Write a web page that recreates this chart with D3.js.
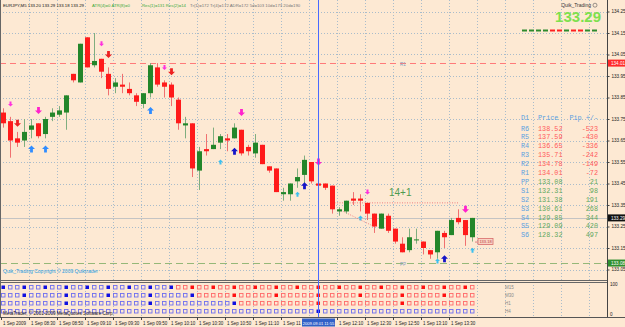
<!DOCTYPE html>
<html>
<head>
<meta charset="utf-8">
<script src="https://cdn.jsdelivr.net/npm/d3@7"></script>
<style>
body{margin:0;background:#fde9d3;}
svg{display:block;}
text{font-family:"Liberation Sans",Arial,sans-serif;}
.mono{font-family:"Liberation Mono","DejaVu Sans Mono",monospace;}
</style>
</head>
<body>
<svg id="chart" width="625" height="327"></svg>
<script>
// M5 candles, bar 0 = 08:10
var barOpen  = [133.78,133.74,133.66,133.65,133.70,133.73,133.68,133.76,133.77,133.78,133.96,133.92,134.13,134.00,134.03,133.96,133.90,133.91,133.89,133.86,133.82,133.87,133.99,133.92,133.91,133.84,133.72,133.73,133.51,133.61,133.61,133.64,133.66,133.66,133.70,133.62,133.59,133.63,133.53,133.52,133.40,133.40,133.46,133.49,133.55,133.45,133.45,133.44,133.32,133.32,133.38,133.38,133.36,133.31,133.24,133.30,133.24,133.17,133.14,133.19,133.18,133.14,133.13,133.22,133.21,133.29,133.28,133.20];
var barHigh  = [133.80,133.76,133.69,133.75,133.75,133.73,133.76,133.80,133.81,133.86,133.96,134.10,134.13,134.15,134.03,133.99,133.94,133.96,133.92,133.87,133.87,134.01,134.01,133.93,133.92,133.85,133.76,133.73,133.62,133.68,133.71,133.68,133.68,133.73,133.70,133.63,133.68,133.63,133.53,133.52,133.43,133.45,133.52,133.58,133.55,133.45,133.45,133.44,133.34,133.37,133.41,133.40,133.36,133.31,133.31,133.31,133.24,133.20,133.24,133.24,133.18,133.14,133.23,133.23,133.29,133.33,133.28,133.29];
var barLow   = [133.71,133.57,133.62,133.62,133.66,133.66,133.66,133.74,133.76,133.70,133.92,133.92,133.99,133.99,133.94,133.86,133.87,133.87,133.86,133.81,133.80,133.85,133.90,133.85,133.81,133.70,133.66,133.48,133.42,133.58,133.61,133.61,133.60,133.66,133.58,133.58,133.57,133.54,133.50,133.41,133.37,133.37,133.43,133.45,133.45,133.43,133.42,133.31,133.30,133.31,133.35,133.32,133.28,133.22,133.24,133.22,133.17,133.13,133.13,133.17,133.12,133.10,133.10,133.15,133.21,133.26,133.16,133.18];
var barClose = [133.73,133.65,133.64,133.69,133.72,133.67,133.75,133.78,133.79,133.86,133.93,134.10,133.99,134.02,133.97,133.89,133.92,133.90,133.87,133.83,133.87,134.00,133.91,133.90,133.85,133.73,133.73,133.52,133.60,133.60,133.63,133.67,133.65,133.71,133.59,133.60,133.64,133.54,133.51,133.41,133.41,133.45,133.48,133.56,133.46,133.44,133.43,133.33,133.33,133.37,133.37,133.37,133.31,133.25,133.31,133.23,133.18,133.13,133.20,133.19,133.15,133.12,133.23,133.20,133.28,133.27,133.21,133.29];

var timeTickBars   = [0,4,8,12,16,20,24,28,32,36,40,48,52,56,60,64];
var timeTickLabels = ["1 Sep 2009","1 Sep 08:30","1 Sep 08:50","1 Sep 09:10","1 Sep 09:30","1 Sep 09:50","1 Sep 10:10","1 Sep 10:30","1 Sep 10:50","1 Sep 11:10","1 Sep 11","1 Sep 12:10","1 Sep 12:30","1 Sep 12:50","1 Sep 13:10","1 Sep 13:30"];
var priceTicks = [134.25,134.15,134.05,133.95,133.85,133.75,133.65,133.55,133.45,133.35,133.25,133.15,133.05];

var lastPrice = 133.29;
var cursorBar = 45;
var cursorLabel = "2009.09.01 11:55";

// signal arrows
var arrowBar   = [1,2,5,4,6,14,15,23,24,21,34,31,33,45,43,42,52,51,66,67,63,62];
var arrowPrice = [133.82,133.73,133.79,133.61,133.61,134.10,134.05,133.99,133.97,133.79,133.78,133.55,133.60,133.55,133.44,133.40,133.41,133.29,133.33,133.14,133.10,133.09];
var arrowKind  = ["pinkS","red","pink","blue","blue","pinkS","red","pinkS","red","blue","pink","cyan","navy","pink","navy","cyan","pinkS","cyan","pink","cyan","navy","cyan"];

// daily pivots table
var pivotNames  = ["R6","R5","R4","R3","R2","R1","PP","S1","S2","S3","S4","S5","S6"];
var pivotPrices = ["138.52","137.59","136.65","135.71","134.78","134.01","133.08","132.31","131.38","130.61","129.85","129.09","128.32"];
var pivotPips   = ["-523","-430","-336","-242","-149","-72","21","98","191","268","344","420","497"];

// multi timeframe trend panel
var tfNames  = ["M15","M30","H1","H4"];
var tfRedFrom = [25,28,34,999];
var tfFilled = [
  [0,3,6,9,12,15,18,21,24,27,30,33,36,39,42,45,48,51,54,57,60,63,66],
  [3,9,15,21,27,33,39,45,51,57,63],
  [9,21,33,45,57],
  [45]
];
var topDashColors = ["g","g","g","g","r","r","g","r","r","g","g"];

var svg = d3.select("#chart");
var W = 625, H = 327;
var plotRight = 607;
var subTop = 282, subBottom = 317;

var x = d3.scaleLinear().domain([0, 67]).range([3, 472]);
var y = d3.scaleLinear().domain([133.05, 134.25]).range([269.5, 11.5]);

svg.append("rect").attr("width", W).attr("height", H).attr("fill", "#fde9d3");

// grid
var gridColor = "#a9bccb";
var vBars = d3.range(4, 100, 4).filter(function(b){ return x(b) - 2 < plotRight; });
svg.append("g").selectAll("line").data(vBars).enter().append("line")
  .attr("x1", function(d){ return Math.round(x(d)) - 1.5; })
  .attr("x2", function(d){ return Math.round(x(d)) - 1.5; })
  .attr("y1", 0).attr("y2", subBottom)
  .attr("stroke", gridColor).attr("stroke-width", 1).attr("stroke-dasharray", "1,2");
svg.append("g").selectAll("line").data(priceTicks).enter().append("line")
  .attr("x1", 0).attr("x2", plotRight)
  .attr("y1", function(d){ return Math.round(y(d)) + 0.5; })
  .attr("y2", function(d){ return Math.round(y(d)) + 0.5; })
  .attr("stroke", gridColor).attr("stroke-width", 1).attr("stroke-dasharray", "1,2");

// pivot lines
svg.append("line").attr("x1", 0).attr("x2", plotRight)
  .attr("y1", Math.round(y(134.01)) + 0.5).attr("y2", Math.round(y(134.01)) + 0.5)
  .attr("stroke", "#ff7a7a").attr("stroke-dasharray", "6,4");
svg.append("line").attr("x1", 0).attr("x2", plotRight)
  .attr("y1", Math.round(y(133.08)) + 0.5).attr("y2", Math.round(y(133.08)) + 0.5)
  .attr("stroke", "#95b878").attr("stroke-dasharray", "7,4");
svg.append("text").attr("x", 400).attr("y", y(134.01) + 3).attr("font-size", 4.5).attr("fill", "#7f9fbf").text("R1");
svg.append("text").attr("x", 400).attr("y", y(133.08) + 3).attr("font-size", 4.5).attr("fill", "#7f9fbf").text("PP");

// bid line
svg.append("line").attr("x1", 0).attr("x2", plotRight)
  .attr("y1", Math.round(y(lastPrice)) + 0.5).attr("y2", Math.round(y(lastPrice)) + 0.5)
  .attr("stroke", "#c4c4c4").attr("stroke-width", 1.2);

// trend dotted lines
svg.append("line").attr("x1", x(47)).attr("x2", x(65)).attr("y1", y(133.36)).attr("y2", y(133.36))
  .attr("stroke", "#f08080").attr("stroke-dasharray", "1,1.5");
svg.append("line").attr("x1", x(48)).attr("x2", x(53)).attr("y1", y(133.33)).attr("y2", y(133.25))
  .attr("stroke", "#f08080").attr("stroke-dasharray", "1,1.5");

// candles
var bars = d3.range(barOpen.length);
var gC = svg.append("g");
gC.selectAll("line.wick").data(bars).enter().append("line")
  .attr("x1", function(i){ return Math.round(x(i)) + 0.5; })
  .attr("x2", function(i){ return Math.round(x(i)) + 0.5; })
  .attr("y1", function(i){ return y(barHigh[i]); })
  .attr("y2", function(i){ return y(barLow[i]); })
  .attr("stroke", function(i){ return barClose[i] >= barOpen[i] ? "#7fae7f" : "#f07070"; });
gC.selectAll("rect").data(bars).enter().append("rect")
  .attr("x", function(i){ return Math.round(x(i)) - 2; })
  .attr("width", 5)
  .attr("y", function(i){ return y(Math.max(barOpen[i], barClose[i])); })
  .attr("height", function(i){ return Math.max(1, Math.abs(y(barOpen[i]) - y(barClose[i]))); })
  .attr("fill", function(i){ return barClose[i] >= barOpen[i] ? "#23862a" : "#ff1a1a"; });

// arrows
var kinds = {
  pinkS: {c: "#ff33dd", s: 5, up: false},
  pink:  {c: "#ff22cc", s: 7, up: false},
  red:   {c: "#ee2020", s: 7, up: false},
  blue:  {c: "#2f8cff", s: 7, up: true},
  cyan:  {c: "#3cc0f0", s: 5, up: true},
  navy:  {c: "#1414c8", s: 7, up: true}
};
function arrowPath(s, up){
  var h = s / 2, w = s * 0.2;
  var p = [[-w,-h],[w,-h],[w,0],[h,0],[0,h],[-h,0],[-w,0]];
  return "M" + p.map(function(q){ return q[0] + "," + (up ? -q[1] : q[1]); }).join("L") + "Z";
}
svg.append("g").selectAll("path").data(d3.range(arrowBar.length)).enter().append("path")
  .attr("transform", function(i){ return "translate(" + (Math.round(x(arrowBar[i])) + 0.5) + "," + y(arrowPrice[i]) + ")"; })
  .attr("d", function(i){ var k = kinds[arrowKind[i]]; return arrowPath(k.s, k.up); })
  .attr("fill", function(i){ return kinds[arrowKind[i]].c; });

svg.append("text").attr("x", 389).attr("y", 196).attr("font-size", 10).attr("fill", "#4f9a4f").text("14+1");

// small price box near last bar
svg.append("line").attr("x1", x(67) + 3).attr("x2", 478).attr("y1", y(133.18) + 0.5).attr("y2", y(133.18) + 0.5).attr("stroke", "#e08080");
svg.append("rect").attr("x", 478).attr("y", y(133.18) - 3).attr("width", 15).attr("height", 6)
  .attr("fill", "#f9d4c4").attr("stroke", "#d86a6a").attr("stroke-width", 0.8);
svg.append("text").attr("x", 485.5).attr("y", y(133.18) + 1.8).attr("font-size", 4).attr("text-anchor", "middle").attr("fill", "#c04040").text("133.18");

// pivot table
var tRow = function(i){ return 128 + i * 8.9; };
svg.append("text").attr("class", "mono").attr("x", 521).attr("y", 120).attr("font-size", 6.8).attr("fill", "#5a9fe0").text("D1");
svg.append("text").attr("class", "mono").attr("x", 538).attr("y", 120).attr("font-size", 6.8).attr("fill", "#5a9fe0").text("Price");
svg.append("text").attr("class", "mono").attr("x", 598).attr("y", 120).attr("font-size", 6.8).attr("fill", "#5a9fe0").attr("text-anchor", "end").text("Pip +/-");
var tab = svg.append("g").attr("class", "mono").attr("font-size", 6.8);
tab.selectAll("text.n").data(pivotNames).enter().append("text")
  .attr("class", "mono").attr("x", 521).attr("y", function(d, i){ return tRow(i) + 2.5; })
  .attr("fill", "#5a9fe0").text(function(d){ return d; });
tab.selectAll("text.p").data(pivotPrices).enter().append("text")
  .attr("class", "mono").attr("x", 538).attr("y", function(d, i){ return tRow(i) + 2.5; })
  .attr("fill", function(d, i){ return i < 6 ? "#ff5a5a" : "#5fa85f"; }).text(function(d){ return d; });
tab.selectAll("text.q").data(pivotPips).enter().append("text")
  .attr("class", "mono").attr("x", 598).attr("text-anchor", "end").attr("y", function(d, i){ return tRow(i) + 2.5; })
  .attr("fill", function(d, i){ return i < 6 ? "#ff5a5a" : "#5fa85f"; }).text(function(d){ return d; });

// top right widgets
svg.append("text").attr("x", 591).attr("y", 7).attr("font-size", 5).attr("text-anchor", "end").attr("fill", "#333").text("Quik_Trading");
svg.append("circle").attr("cx", 595).attr("cy", 5.2).attr("r", 2).attr("fill", "none").attr("stroke", "#555").attr("stroke-width", 0.6);
svg.append("text").attr("x", 601).attr("y", 22).attr("font-size", 15).attr("font-weight", "bold").attr("text-anchor", "end").attr("fill", "#7ee04e").text("133.29");
svg.append("g").selectAll("line").data(topDashColors).enter().append("line")
  .attr("x1", function(d, i){ return 522 + i * 7; }).attr("x2", function(d, i){ return 527 + i * 7; })
  .attr("y1", 30.5).attr("y2", 30.5).attr("stroke-width", 2)
  .attr("stroke", function(d){ return d === "g" ? "#2e8b2e" : "#ff2020"; });

// header
svg.append("text").attr("x", 3).attr("y", 7).attr("font-size", 4.3).attr("fill", "#111").text("EURJPY,M5  133.20 133.29 133.18 133.29");
svg.append("text").attr("x", 92).attr("y", 7).attr("font-size", 4.3).attr("fill", "#3caa3c").text("ATR(4)=0  ATR(8)=0");
svg.append("text").attr("x", 142).attr("y", 7).attr("font-size", 4.3).attr("fill", "#3caa3c").text("Res(1)=131  Res(2)=14");
svg.append("text").attr("x", 190).attr("y", 7).attr("font-size", 4.3).attr("fill", "#777").text("Tr(1)=172  Tr(4)=172  ADR=172  5d=103  10d=173  20d=190");

svg.append("text").attr("x", 3).attr("y", 273).attr("font-size", 5).attr("fill", "#2a9ee0").text("Quik_Trading   Copyright \u00a9 2009   Quiktrader");

// sub window
svg.append("line").attr("x1", 0).attr("x2", plotRight).attr("y1", 280.5).attr("y2", 280.5).attr("stroke", "#666");
svg.append("line").attr("x1", 0).attr("x2", plotRight).attr("y1", 282.5).attr("y2", 282.5).attr("stroke", "#666");
svg.append("line").attr("x1", 0).attr("x2", W).attr("y1", subBottom + 0.5).attr("y2", subBottom + 0.5).attr("stroke", "#555");
var rowY = function(r){ return 287 + r * 8; };
tfNames.forEach(function(name, r){
  var g = svg.append("g");
  g.selectAll("rect").data(bars).enter().append("rect")
    .attr("x", function(i){ return Math.round(x(i)) - 1.5; })
    .attr("y", rowY(r) - 1.5).attr("width", 3.5).attr("height", 3.5)
    .attr("fill", function(i){
      if (tfFilled[r].indexOf(i) < 0) return "none";
      return i >= tfRedFrom[r] ? "#ff1010" : "#1010e0";
    })
    .attr("stroke", function(i){
      if (tfFilled[r].indexOf(i) >= 0) return "none";
      return i >= tfRedFrom[r] ? "#ff6a6a" : "#6f6ff0";
    }).attr("stroke-width", 0.9);
  svg.append("text").attr("x", 505).attr("y", rowY(r) + 1.5).attr("font-size", 4.5).attr("fill", "#8a8a8a").text(name);
});
svg.append("text").attr("x", 3).attr("y", 315).attr("font-size", 4.6).attr("fill", "#222").text("MetaTrader, \u00a9 2001-2009 MetaQuotes Software Corp.");

// cursor line
svg.append("line").attr("x1", Math.round(x(cursorBar)) + 0.5).attr("x2", Math.round(x(cursorBar)) + 0.5)
  .attr("y1", 0).attr("y2", subBottom).attr("stroke", "#4a6aff").attr("stroke-width", 1);

// right price axis
svg.append("line").attr("x1", plotRight + 0.5).attr("x2", plotRight + 0.5).attr("y1", 0).attr("y2", subBottom).attr("stroke", "#444");
var yAxis = d3.axisRight(y).tickValues(priceTicks).tickSize(2).tickFormat(d3.format(".2f"));
var ga = svg.append("g").attr("transform", "translate(" + (plotRight + 0.5) + ",0)").call(yAxis);
ga.select(".domain").remove();
ga.selectAll("text").attr("font-size", 4.6).attr("x", 4).attr("fill", "#222");
ga.selectAll("line").attr("stroke", "#444");
var boxes = [[134.01, "#ff2a2a"], [lastPrice, "#111111"], [133.08, "#2f8f2f"]];
boxes.forEach(function(b){
  svg.append("rect").attr("x", plotRight + 1).attr("y", y(b[0]) - 3.5).attr("width", 17).attr("height", 7).attr("fill", b[1]);
  svg.append("text").attr("x", plotRight + 4).attr("y", y(b[0]) + 1.7).attr("font-size", 4.6).attr("fill", "#fff").text(b[0].toFixed(2));
});
svg.append("text").attr("x", 610).attr("y", 286).attr("font-size", 4.6).attr("fill", "#222").text("100");
svg.append("text").attr("x", 610).attr("y", 316).attr("font-size", 4.6).attr("fill", "#222").text("0");

// time axis
var gt = svg.append("g");
gt.selectAll("line").data(timeTickBars).enter().append("line")
  .attr("x1", function(d){ return Math.round(x(d)) - 1.5; }).attr("x2", function(d){ return Math.round(x(d)) - 1.5; })
  .attr("y1", subBottom).attr("y2", subBottom + 3).attr("stroke", "#444");
gt.selectAll("text").data(timeTickBars).enter().append("text")
  .attr("x", function(d){ return Math.round(x(d)); }).attr("y", 324.5)
  .attr("font-size", 4.5).attr("fill", "#222").text(function(d, i){ return timeTickLabels[i]; });
svg.append("rect").attr("x", x(cursorBar) - 16).attr("y", 318.5).attr("width", 33).attr("height", 8).attr("fill", "#3160c8");
svg.append("text").attr("x", x(cursorBar) + 0.5).attr("y", 324.5).attr("font-size", 4.1).attr("text-anchor", "middle").attr("fill", "#fff").text(cursorLabel);

svg.append("line").attr("x1", 0.5).attr("x2", 0.5).attr("y1", 0).attr("y2", subBottom).attr("stroke", "#666");
</script>
</body>
</html>
